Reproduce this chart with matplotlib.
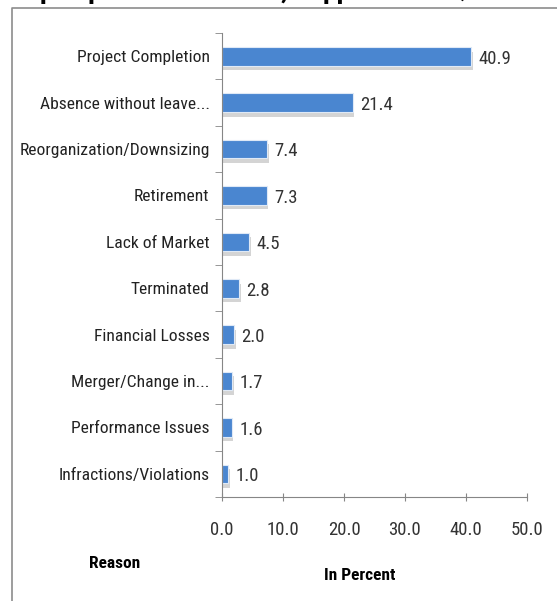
import numpy as np
import matplotlib
matplotlib.use("Agg")
import matplotlib.pyplot as plt
from matplotlib.lines import Line2D

plt.rcParams['font.family'] = ['Roboto Condensed', 'Liberation Sans', 'DejaVu Sans']

# data, top to bottom as shown
reasons = ["Project Completion", "Absence without leave...", "Reorganization/Downsizing",
           "Retirement", "Lack of Market", "Terminated", "Financial Losses",
           "Merger/Change in...", "Performance Issues", "Infractions/Violations"]
percent = [40.9, 21.4, 7.4, 7.3, 4.5, 2.8, 2.0, 1.7, 1.6, 1.0]
xticks = [0, 10, 20, 30, 40, 50]

fig = plt.figure(figsize=(5.57, 6.01), dpi=100)
ax = fig.add_axes([0.3986, 0.173, 0.5475, 0.772])

y = np.arange(len(reasons))[::-1]
# soft shadow under each bar
ax.barh(y - 0.1, np.array(percent) + 0.25, height=0.4, color='#b8b8b8', alpha=0.6, zorder=1)
ax.barh(y, percent, height=0.4, color='#4a86d0', edgecolor='#dfe9f6', linewidth=0.8, zorder=2)
for yi, v in zip(y, percent):
    ax.text(v + 1.2, yi - 0.05, f"{v:.1f}", va='center', ha='left', fontsize=13.5, color='#333333')

ax.set_xlim(0, 50)
ax.set_ylim(-0.5, len(reasons) - 0.5)
ax.set_xticks(xticks)
ax.set_xticklabels([f"{t:.1f}" for t in xticks], fontsize=13.5, color='#333333')
ax.set_yticks(y)
ax.set_yticklabels(reasons, fontsize=12.6, color='#222222')
ax.set_yticks(np.arange(-0.5, len(reasons)), minor=True)
ax.tick_params(axis='y', which='major', length=0, pad=9)
ax.tick_params(axis='y', which='minor', length=5, color='#868686', direction='out')
ax.tick_params(axis='x', length=6, color='#868686', direction='inout', pad=14)
for s in ['top', 'right']:
    ax.spines[s].set_visible(False)
for s in ['left', 'bottom']:
    ax.spines[s].set_color('#868686')

fig.text(0.206, 0.063, "Reason", fontsize=12.5, fontweight='bold', ha='center', va='center')
fig.text(0.645, 0.043, "In Percent", fontsize=12.5, fontweight='bold', ha='center', va='center')

# outer frame (left and top edges)
fig.add_artist(Line2D([0.022, 0.022, 1.0], [0.0, 0.986, 0.986], transform=fig.transFigure,
                      color='#8c8c8c', linewidth=1.2))
# title, cut off at the top edge as in the source image (only descenders show)
fig.text(0.02, 1.0 + 1.5 / 601, "Top Separation Reasons, Support Staff Q", fontsize=20,
         fontweight='bold', ha='left', va='baseline', color='black')

fig.savefig("out.png", dpi=100)
